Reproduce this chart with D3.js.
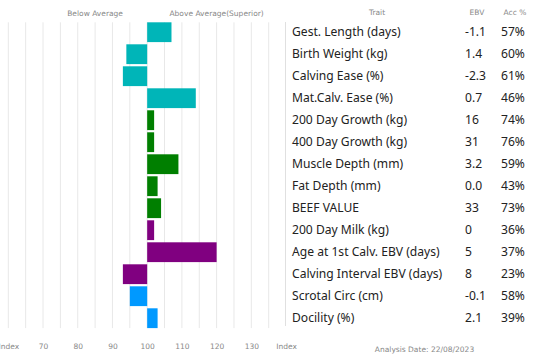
<!DOCTYPE html>
<html>
<head>
<meta charset="utf-8">
<script src="https://cdn.jsdelivr.net/npm/d3@7"></script>
<style>
  body { margin: 0; background: #fff; }
  #chart { width: 550px; height: 362px; }
  .small { font-family: "DejaVu Sans", sans-serif; font-size: 7.5px; fill: #888; }
  .trait { font-family: "Noto Sans", sans-serif; font-size: 12.1px; fill: #222; }
</style>
</head>
<body>
<div id="chart"></div>
<script>
//Datos
const traits = ['Gest. Length (days)','Birth Weight (kg)','Calving Ease (%)','Mat.Calv. Ease (%)',
  '200 Day Growth (kg)','400 Day Growth (kg)','Muscle Depth (mm)','Fat Depth (mm)','BEEF VALUE',
  '200 Day Milk (kg)','Age at 1st Calv. EBV (days)','Calving Interval EBV (days)','Scrotal Circ (cm)','Docility (%)'];
const ebv = ['-1.1','1.4','-2.3','0.7','16','31','3.2','0.0','33','0','5','8','-0.1','2.1'];
const acc = ['57%','60%','61%','46%','74%','76%','59%','43%','73%','36%','37%','23%','58%','39%'];
const indexValues = [107, 94, 93, 114, 102, 102, 109, 103, 104, 102, 120, 93, 95, 103];
const groups = ['calving','calving','calving','calving','growth','growth','growth','growth','growth',
  'maternal','maternal','maternal','fertility','fertility'];
const tickValues = [60, 70, 80, 90, 100, 110, 120, 130, 140];

//Colores
let color = d3.scaleOrdinal()
    .domain(['calving','growth','maternal','fertility'])
    .range(['#00b5b8', '#007f00', '#800080', '#0099ff']);

let svg = d3.select('#chart')
    .append('svg')
    .attr('width', 550)
    .attr('height', 362);

let x = d3.scaleLinear()
    .domain([60, 135])
    .range([8.3, 268.7]);

let y = d3.scaleBand()
    .domain(traits)
    .range([21.2, 329.2])
    .paddingInner(0.1)
    .paddingOuter(0.05);

//Rejilla
svg.append('g')
    .selectAll('line')
    .data(d3.range(60, 136, 5))
    .enter()
    .append('line')
    .attr('x1', d => x(d)).attr('x2', d => x(d))
    .attr('y1', y(traits[0])).attr('y2', y(traits[traits.length - 1]) + y.bandwidth())
    .attr('stroke', '#e8e8e8')
    .attr('stroke-width', 1);

//Barras
svg.append('g')
    .selectAll('rect')
    .data(indexValues)
    .enter()
    .append('rect')
    .attr('x', d => x(Math.min(d, 100)))
    .attr('width', d => Math.abs(x(d) - x(100)))
    .attr('y', (d, i) => y(traits[i]))
    .attr('height', y.bandwidth())
    .attr('fill', (d, i) => color(groups[i]));

//Eje inferior
let xAxis = function(g) {
    g.call(d3.axisBottom(x).tickValues(tickValues).tickSize(0).tickPadding(0)
        .tickFormat(d => (d == 60 || d == 140) ? 'Index' : d));
    g.select('.domain').remove();
    g.selectAll('text').attr('class', 'small').attr('fill', null);
}
svg.append('g')
    .attr('transform', 'translate(0,344)')
    .call(xAxis);

svg.append('text').attr('class', 'small')
    .attr('x', 424.5).attr('y', 351.5).attr('text-anchor', 'middle')
    .text('Analysis Date: 22/08/2023');

//Cabecera
svg.append('text').attr('class', 'small')
    .attr('x', x(85)).attr('y', 15.5).attr('text-anchor', 'middle')
    .text('Below Average');
svg.append('text').attr('class', 'small')
    .attr('x', x(120)).attr('y', 15.5).attr('text-anchor', 'middle')
    .text('Above Average(Superior)');

svg.append('text').attr('class', 'small')
    .attr('x', 377).attr('y', 15).attr('text-anchor', 'middle').text('Trait');
svg.append('text').attr('class', 'small')
    .attr('x', 477).attr('y', 15).attr('text-anchor', 'middle').text('EBV');
svg.append('text').attr('class', 'small')
    .attr('x', 515).attr('y', 15).attr('text-anchor', 'middle').text('Acc %');

//Tabla
svg.append('line')
    .attr('x1', 285.5).attr('x2', 285.5)
    .attr('y1', 22).attr('y2', 326)
    .attr('stroke', '#e0e0e0');

let rows = svg.append('g')
    .selectAll('g')
    .data(traits)
    .enter()
    .append('g')
    .attr('transform', d => 'translate(0,' + (y(d) + y.bandwidth() / 2) + ')');

rows.append('text').attr('class', 'trait')
    .attr('x', 292).attr('dy', '0.35em')
    .text(d => d);
rows.append('text').attr('class', 'trait')
    .attr('x', 465).attr('dy', '0.35em')
    .text((d, i) => ebv[i]);
rows.append('text').attr('class', 'trait')
    .attr('x', 501).attr('dy', '0.35em')
    .text((d, i) => acc[i]);
</script>
</body>
</html>
